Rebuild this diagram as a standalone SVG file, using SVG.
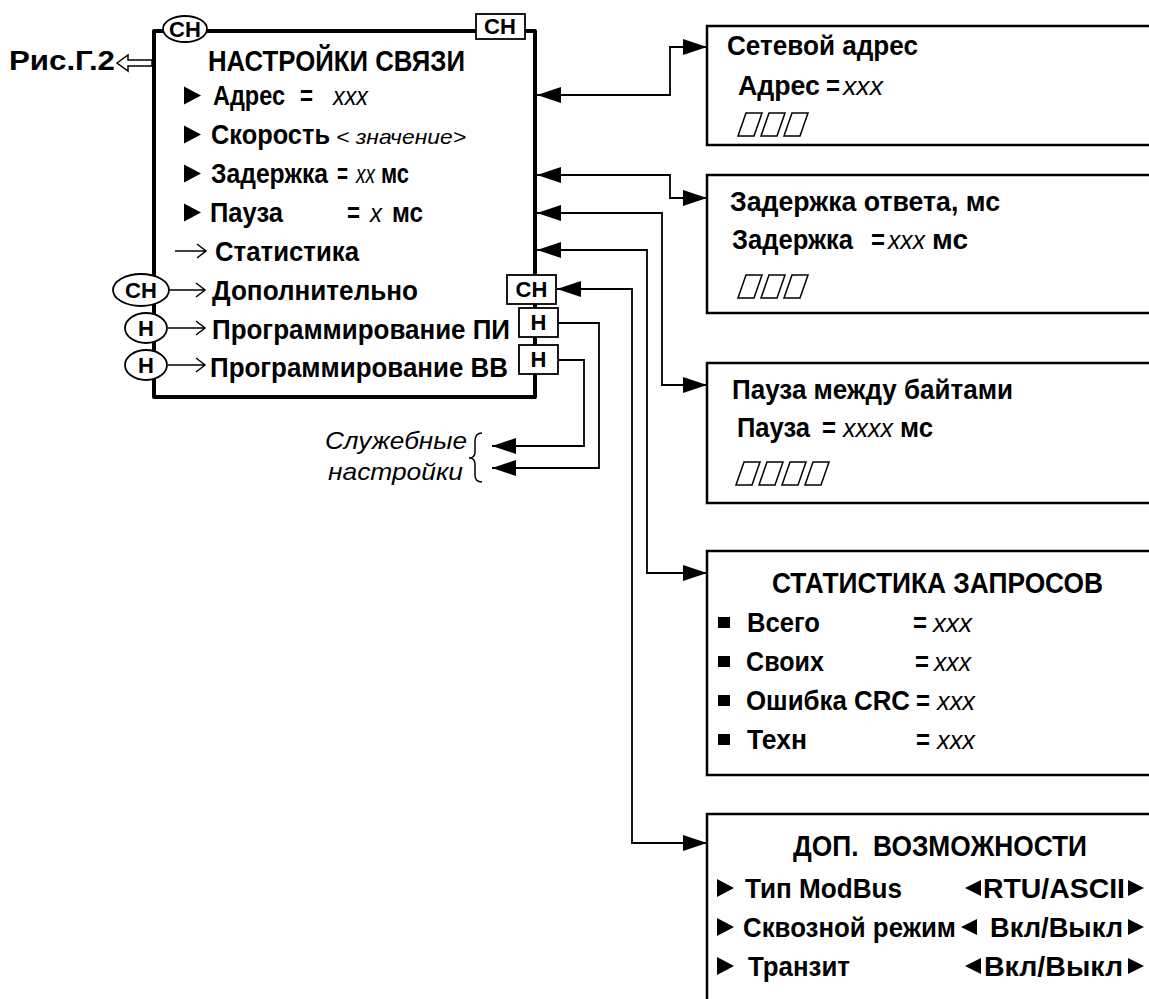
<svg xmlns="http://www.w3.org/2000/svg" width="1149" height="999" viewBox="0 0 1149 999">
<defs>
<style>
text{font-family:"Liberation Sans",Arial,sans-serif;fill:#000}
.b{font-weight:bold;font-size:27px}
.r{font-weight:bold;font-size:27px}
.t{font-weight:bold;font-size:29px}
.i{font-style:italic;font-weight:normal;font-size:26px}
.s{font-style:italic;font-weight:normal;font-size:21px}
.n{font-style:italic;font-weight:normal;font-size:24px}
.m{font-weight:bold;font-size:22px}
.c{text-anchor:middle}
.frame{fill:#fff;stroke:#000;stroke-width:4;stroke-linejoin:round}
.box{fill:#fff;stroke:#000;stroke-width:2.5}
.tag{fill:#fff;stroke:#000;stroke-width:1.8}
.conn{fill:none;stroke:#000;stroke-width:1.8}
.thin{fill:none;stroke:#000;stroke-width:1.5}
.cell{fill:none;stroke:#000;stroke-width:1.5}
</style>
<marker id="ah" viewBox="0 0 24 16" refX="24" refY="8" markerWidth="24" markerHeight="16" markerUnits="userSpaceOnUse" orient="auto-start-reverse"><path d="M0,0 L24,8 L0,16 z" fill="#000"/></marker>
<polygon id="tri" points="0,-9 17,0 0,9" fill="#000"/>
<polygon id="tril" points="16,-8 0,0 16,8" fill="#000"/>
<polygon id="trir" points="0,-8 16,0 0,8" fill="#000"/>
<polygon id="cell" points="8,0 24,0 16,23 0,23" class="cell"/>
<rect id="sq" x="0" y="0" width="12" height="11" fill="#000"/>
</defs>
<rect width="1149" height="999" fill="#fff"/>

<g id="connectors">
<path class="conn" d="M537,95 H670 V47 H707" marker-start="url(#ah)" marker-end="url(#ah)"/>
<path class="conn" d="M537,175 H670 V198 H707" marker-start="url(#ah)" marker-end="url(#ah)"/>
<path class="conn" d="M537,213 H662 V385 H707" marker-start="url(#ah)" marker-end="url(#ah)"/>
<path class="conn" d="M537,250 H647 V573 H707" marker-start="url(#ah)" marker-end="url(#ah)"/>
<path class="conn" d="M557,289 H632 V843 H707" marker-start="url(#ah)" marker-end="url(#ah)"/>
<path class="conn" d="M558,323 H599 V468 H492" marker-end="url(#ah)"/>
<path class="conn" d="M558,360 H584 V446 H492" marker-end="url(#ah)"/>
</g>

<g id="ref-link">
<text class="r" x="9" y="70" font-size="26" textLength="106" lengthAdjust="spacingAndGlyphs">Рис.Г.2</text>
<polygon points="117,63 128,55 128,60 152,60 152,66 128,66 128,71" fill="#fff" stroke="#000" stroke-width="1.5"/>
</g>

<g id="main-menu">
<rect class="frame" x="154" y="31" width="381" height="366"/>
<ellipse class="tag" cx="185" cy="29" rx="22" ry="13"/>
<text class="m c" x="185" y="37">СН</text>
<rect class="tag" x="476" y="14" width="49" height="25"/>
<text class="m c" x="500" y="34">СН</text>
<text class="t" x="208" y="71" textLength="257" lengthAdjust="spacingAndGlyphs">НАСТРОЙКИ СВЯЗИ</text>

<use href="#tri" x="184" y="95.5"/>
<text class="b" x="213" y="105" textLength="72" lengthAdjust="spacingAndGlyphs">Адрес</text>
<text class="b" x="300" y="105" textLength="13" lengthAdjust="spacingAndGlyphs">=</text>
<text class="i" x="333" y="105" textLength="35" lengthAdjust="spacingAndGlyphs">xxx</text>

<use href="#tri" x="184" y="134.5"/>
<text class="b" x="211" y="144" textLength="119" lengthAdjust="spacingAndGlyphs">Скорость</text>
<text class="s" x="336" y="144" textLength="130" lengthAdjust="spacingAndGlyphs">&lt; значение&gt;</text>

<use href="#tri" x="184" y="173.5"/>
<text class="b" x="211" y="183" font-size="24" textLength="117" lengthAdjust="spacingAndGlyphs">Задержка</text>
<text class="b" x="337" y="183" font-size="22" textLength="11" lengthAdjust="spacingAndGlyphs">=</text>
<text class="i" x="356" y="183" font-size="22" textLength="19" lengthAdjust="spacingAndGlyphs">xx</text>
<text class="b" x="381" y="183" textLength="28" lengthAdjust="spacingAndGlyphs">мс</text>

<use href="#tri" x="184" y="212.5"/>
<text class="b" x="210" y="222" textLength="73" lengthAdjust="spacingAndGlyphs">Пауза</text>
<text class="b" x="347" y="222" textLength="13" lengthAdjust="spacingAndGlyphs">=</text>
<text class="i" x="370" y="222" textLength="12" lengthAdjust="spacingAndGlyphs">x</text>
<text class="b" x="392" y="222" textLength="31" lengthAdjust="spacingAndGlyphs">мс</text>

<path class="thin" d="M175,251 H206 M197,244 L206,251 L197,258"/>
<text class="b" x="215" y="261" textLength="144" lengthAdjust="spacingAndGlyphs">Статистика</text>

<ellipse class="tag" cx="141" cy="290" rx="28" ry="16"/>
<text class="m c" x="141" y="298">СН</text>
<path class="thin" d="M170,290 H205 M196,283 L205,290 L196,297"/>
<text class="b" x="212" y="300" textLength="206" lengthAdjust="spacingAndGlyphs">Дополнительно</text>
<rect class="tag" x="507" y="275" width="49" height="29"/>
<text class="m c" x="531.5" y="297">СН</text>

<ellipse class="tag" cx="146" cy="328" rx="21" ry="15"/>
<text class="m c" x="146" y="336">Н</text>
<path class="thin" d="M168,328 H205 M196,321 L205,328 L196,335"/>
<text class="b" x="212" y="339" font-size="26" textLength="298" lengthAdjust="spacingAndGlyphs">Программирование ПИ</text>
<rect class="tag" x="519" y="308" width="39" height="29"/>
<text class="m c" x="538.5" y="330">Н</text>

<ellipse class="tag" cx="146" cy="365" rx="21" ry="15"/>
<text class="m c" x="146" y="373">Н</text>
<path class="thin" d="M168,365 H205 M196,358 L205,365 L196,372"/>
<text class="b" x="210" y="377" font-size="26" textLength="298" lengthAdjust="spacingAndGlyphs">Программирование ВВ</text>
<rect class="tag" x="519" y="345" width="39" height="29"/>
<text class="m c" x="538.5" y="367">Н</text>
</g>

<g id="service-settings">
<text class="n" x="325" y="449" textLength="142" lengthAdjust="spacingAndGlyphs">Служебные</text>
<text class="n" x="328" y="480" textLength="135" lengthAdjust="spacingAndGlyphs">настройки</text>
<path class="thin" d="M482,433 Q475,433 475,441 L475,452 Q475,458 469,458 Q475,458 475,464 L475,475 Q475,482 482,482"/>
</g>

<g id="box-address">
<rect class="box" x="707" y="26" width="460" height="119"/>
<text class="b" x="727" y="55" textLength="191" lengthAdjust="spacingAndGlyphs">Сетевой адрес</text>
<text class="r" x="738" y="95" textLength="82" lengthAdjust="spacingAndGlyphs">Адрес</text>
<text class="r" x="826" y="95" textLength="14" lengthAdjust="spacingAndGlyphs">=</text>
<text class="i" x="843" y="95" textLength="40" lengthAdjust="spacingAndGlyphs">xxx</text>
<use href="#cell" x="738" y="113"/><use href="#cell" x="761" y="113"/><use href="#cell" x="784" y="113"/>
</g>

<g id="box-delay">
<rect class="box" x="707" y="175" width="460" height="138"/>
<text class="b" x="730" y="211" textLength="270" lengthAdjust="spacingAndGlyphs">Задержка ответа, мс</text>
<text class="r" x="732" y="249" textLength="121" lengthAdjust="spacingAndGlyphs">Задержка</text>
<text class="r" x="871" y="249" textLength="14" lengthAdjust="spacingAndGlyphs">=</text>
<text class="i" x="888" y="249" textLength="37" lengthAdjust="spacingAndGlyphs">xxx</text>
<text class="r" x="932" y="249" textLength="36" lengthAdjust="spacingAndGlyphs">мс</text>
<use href="#cell" x="738" y="275"/><use href="#cell" x="761" y="275"/><use href="#cell" x="784" y="275"/>
</g>

<g id="box-pause">
<rect class="box" x="707" y="363" width="460" height="140"/>
<text class="b" x="732" y="399" textLength="281" lengthAdjust="spacingAndGlyphs">Пауза между байтами</text>
<text class="r" x="737" y="437" textLength="73" lengthAdjust="spacingAndGlyphs">Пауза</text>
<text class="r" x="822" y="437" textLength="14" lengthAdjust="spacingAndGlyphs">=</text>
<text class="i" x="843" y="437" textLength="50" lengthAdjust="spacingAndGlyphs">xxxx</text>
<text class="r" x="900" y="437" textLength="33" lengthAdjust="spacingAndGlyphs">мс</text>
<use href="#cell" x="736" y="462"/><use href="#cell" x="759" y="462"/><use href="#cell" x="782" y="462"/><use href="#cell" x="805" y="462"/>
</g>

<g id="box-statistics">
<rect class="box" x="707" y="551" width="460" height="224"/>
<text class="t" x="772" y="593" textLength="331" lengthAdjust="spacingAndGlyphs">СТАТИСТИКА ЗАПРОСОВ</text>
<use href="#sq" x="718" y="617"/>
<text class="r" x="747" y="632" textLength="73" lengthAdjust="spacingAndGlyphs">Всего</text>
<text class="r" x="913" y="632" textLength="14" lengthAdjust="spacingAndGlyphs">=</text>
<text class="i" x="933" y="632" textLength="39" lengthAdjust="spacingAndGlyphs">xxx</text>
<use href="#sq" x="718" y="656"/>
<text class="r" x="746" y="671" textLength="78" lengthAdjust="spacingAndGlyphs">Своих</text>
<text class="r" x="915" y="671" textLength="14" lengthAdjust="spacingAndGlyphs">=</text>
<text class="i" x="934" y="671" textLength="37" lengthAdjust="spacingAndGlyphs">xxx</text>
<use href="#sq" x="718" y="695"/>
<text class="r" x="746" y="710" textLength="164" lengthAdjust="spacingAndGlyphs">Ошибка CRC</text>
<text class="r" x="916" y="710" textLength="14" lengthAdjust="spacingAndGlyphs">=</text>
<text class="i" x="937" y="710" textLength="38" lengthAdjust="spacingAndGlyphs">xxx</text>
<use href="#sq" x="718" y="734"/>
<text class="r" x="747" y="749" textLength="60" lengthAdjust="spacingAndGlyphs">Техн</text>
<text class="r" x="916" y="749" textLength="14" lengthAdjust="spacingAndGlyphs">=</text>
<text class="i" x="937" y="749" textLength="38" lengthAdjust="spacingAndGlyphs">xxx</text>
</g>

<g id="box-extra">
<rect class="box" x="707" y="814" width="460" height="200"/>
<text class="t" x="793" y="856" textLength="294" lengthAdjust="spacingAndGlyphs" xml:space="preserve">ДОП.  ВОЗМОЖНОСТИ</text>
<use href="#tri" x="717" y="888"/>
<text class="r" x="745" y="898" textLength="157" lengthAdjust="spacingAndGlyphs">Тип ModBus</text>
<use href="#tril" x="965" y="888"/>
<text class="r" x="983" y="898" textLength="142" lengthAdjust="spacingAndGlyphs">RTU/ASCII</text>
<use href="#trir" x="1128" y="888"/>
<use href="#tri" x="717" y="927"/>
<text class="r" x="743" y="937" textLength="213" lengthAdjust="spacingAndGlyphs">Сквозной режим</text>
<use href="#tril" x="961" y="927"/>
<text class="r" x="990" y="937" textLength="133" lengthAdjust="spacingAndGlyphs">Вкл/Выкл</text>
<use href="#trir" x="1128" y="927"/>
<use href="#tri" x="717" y="966"/>
<text class="r" x="748" y="976" textLength="102" lengthAdjust="spacingAndGlyphs">Транзит</text>
<use href="#tril" x="965" y="966"/>
<text class="r" x="984" y="976" textLength="139" lengthAdjust="spacingAndGlyphs">Вкл/Выкл</text>
<use href="#trir" x="1128" y="966"/>
</g>
</svg>
